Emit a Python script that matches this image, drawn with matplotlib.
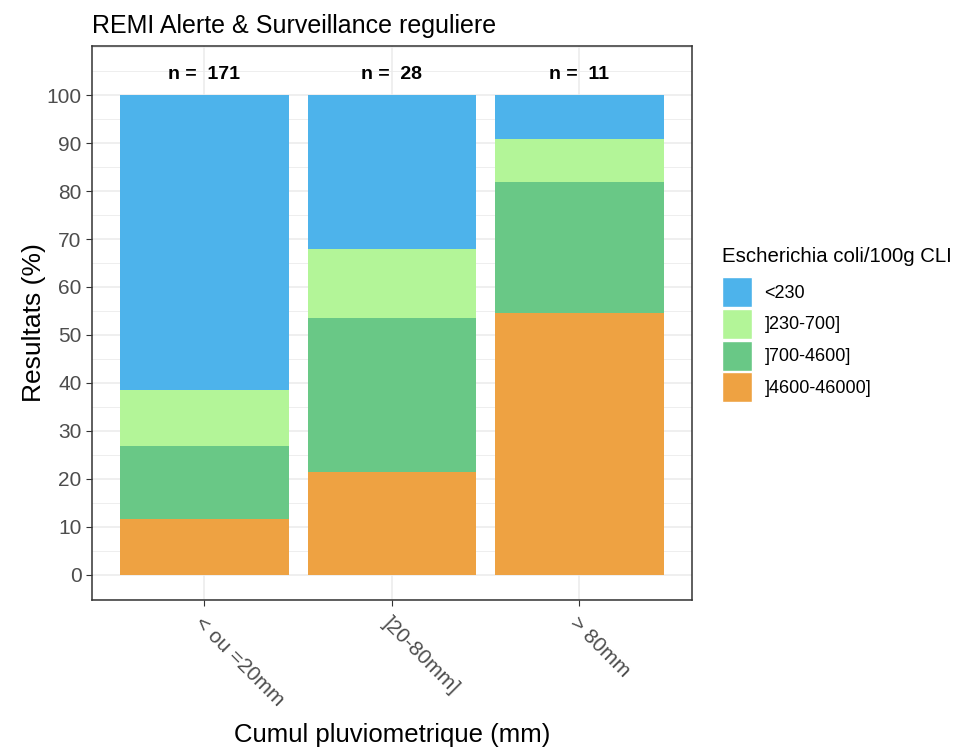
import numpy as np
import matplotlib.pyplot as plt
from matplotlib.patches import Patch

plt.rcParams["font.family"] = ["Liberation Sans", "DejaVu Sans"]

# data
categories = ["< ou =20mm", "]20-80mm]", "> 80mm"]
counts = [171, 28, 11]
classes = ["<230", "]230-700]", "]700-4600]", "]4600-46000]"]
colors = ["#4DB3EB", "#B3F598", "#69C886", "#EEA242"]
# percentages per class (bottom to top: orange, green, light green, blue)
pct_4600 = [11.7, 21.4, 54.5]
pct_700 = [15.2, 32.2, 27.3]
pct_230 = [11.7, 14.3, 9.1]
pct_lt230 = [61.4, 32.1, 9.1]

fig = plt.figure(figsize=(9.6, 7.49), dpi=100)
ax = fig.add_axes([0.0958, 0.199, 0.625, 0.7396])

x = np.arange(1, len(categories) + 1)
stack = [pct_4600, pct_700, pct_230, pct_lt230]
stack_colors = [colors[3], colors[2], colors[1], colors[0]]
bottom = np.zeros(len(categories))
for vals, col in zip(stack, stack_colors):
    ax.bar(x, vals, width=0.9, bottom=bottom, color=col, zorder=3, linewidth=0)
    bottom += np.array(vals)

for xi, n in zip(x, counts):
    ax.text(xi, 104.3, f"n =  {n}", ha="center", va="center",
            fontsize=14, fontweight="bold", zorder=4)

ax.set_xlim(0.4, 3.6)
ax.set_ylim(-5.25, 110.25)
ax.set_yticks(np.arange(0, 101, 10))
ax.set_yticks(np.arange(-5, 111, 5), minor=True)
ax.set_xticks(x)
ax.set_xticklabels(categories, rotation=-45, ha="left", va="top",
                   rotation_mode="anchor", fontsize=15, color="#4D4D4D")
ax.tick_params(axis="y", labelsize=15, labelcolor="#4D4D4D", color="#333333", length=4)
ax.tick_params(axis="x", color="#333333", length=4, pad=6)
ax.tick_params(which="minor", length=0)
ax.grid(True, which="major", color="#EBEBEB", linewidth=1.1, zorder=0)
ax.grid(True, which="minor", axis="y", color="#EBEBEB", linewidth=0.6, zorder=0)
ax.set_axisbelow(True)
for sp in ax.spines.values():
    sp.set_color("#333333")
    sp.set_linewidth(1.1)

ax.set_xlabel("Cumul pluviometrique (mm)", fontsize=18.5, labelpad=9)
ax.set_ylabel("Resultats (%)", fontsize=19, labelpad=0)
ax.set_title("REMI Alerte & Surveillance reguliere", loc="left", fontsize=18, pad=9, x=0.0)

handles = [Patch(facecolor=c, edgecolor="white", label=l) for c, l in zip(colors, classes)]
leg = fig.legend(handles=handles, title="Escherichia coli/100g CLI",
                 loc="upper left", bbox_to_anchor=(0.745, 0.680),
                 frameon=False, fontsize=13, title_fontsize=14.7,
                 handlelength=1.66, handleheight=2.18, handletextpad=0.66,
                 labelspacing=0.1, borderaxespad=0)
leg._legend_box.align = "left"
leg._legend_box.sep = 8

fig.savefig("out.png", dpi=100)
